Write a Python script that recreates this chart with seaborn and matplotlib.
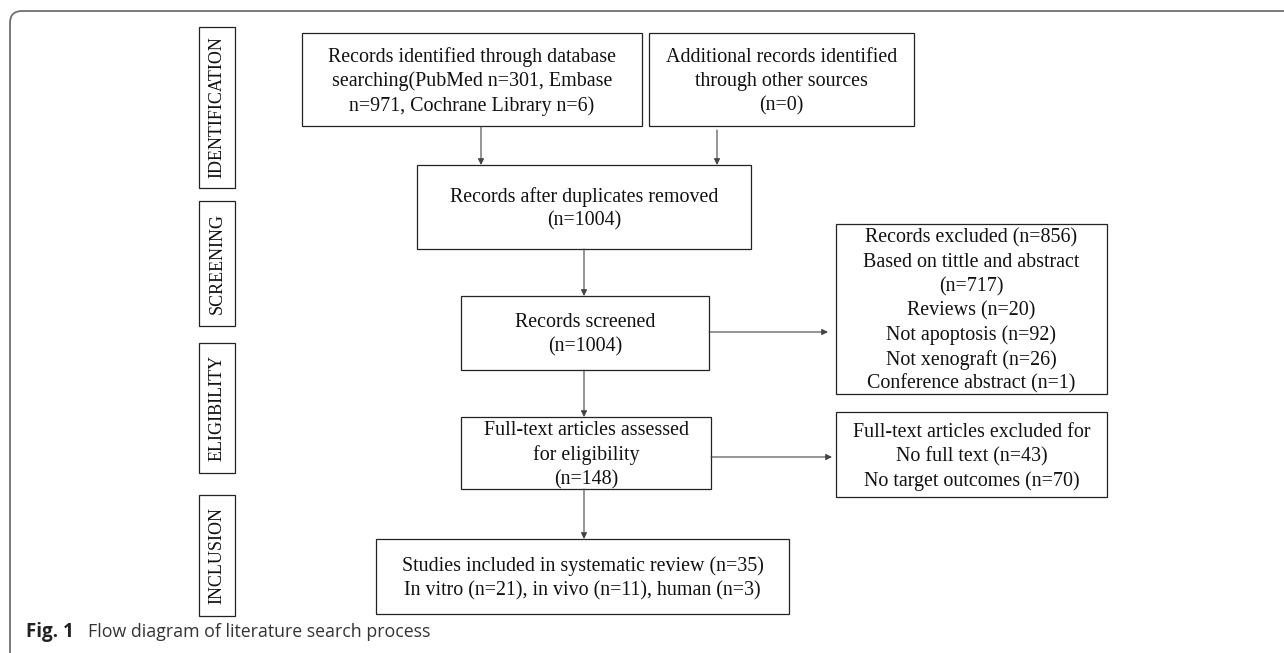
import matplotlib
matplotlib.use("Agg")
import matplotlib.pyplot as plt
from matplotlib.patches import Rectangle, FancyBboxPatch
import seaborn as sns

# stage labels down the left side
stages = ["IDENTIFICATION", "SCREENING", "ELIGIBILITY", "INCLUSION"]

# box texts, one list of lines per box
box_db = ["Records identified through database",
          "searching(PubMed n=301, Embase",
          "n=971, Cochrane Library n=6)"]
box_other = ["Additional records identified",
             "through other sources",
             "(n=0)"]
box_dedup = ["Records after duplicates removed", "(n=1004)"]
box_screened = ["Records screened", "(n=1004)"]
box_excluded = ["Records excluded (n=856)",
                "Based on tittle and abstract",
                "(n=717)",
                "Reviews (n=20)",
                "Not apoptosis (n=92)",
                "Not xenograft (n=26)",
                "Conference abstract (n=1)"]
box_fulltext = ["Full-text articles assessed", "for eligibility", "(n=148)"]
box_ft_excluded = ["Full-text articles excluded for",
                   "No full text (n=43)",
                   "No target outcomes (n=70)"]
box_included = ["Studies included in systematic review (n=35)",
                "In vitro (n=21), in vivo (n=11), human (n=3)"]

caption_bold = "Fig. 1"
caption_text = "Flow diagram of literature search process"

# layout in pixel space (x0, y0, x1, y1)
stage_boxes = [(199, 27, 235, 188), (199, 201, 235, 326),
               (199, 343, 235, 473), (199, 495, 235, 616)]
layout = {
    "db": (302, 33, 642, 126),
    "other": (649, 33, 914, 126),
    "dedup": (417, 165, 751, 249),
    "screened": (461, 296, 709, 370),
    "excluded": (836, 224, 1107, 394),
    "fulltext": (461, 417, 711, 489),
    "ft_excluded": (836, 412, 1107, 497),
    "included": (376, 539, 789, 614),
}
texts = {
    "db": box_db, "other": box_other, "dedup": box_dedup,
    "screened": box_screened, "excluded": box_excluded,
    "fulltext": box_fulltext, "ft_excluded": box_ft_excluded,
    "included": box_included,
}
arrows = [((481, 127), (481, 165)), ((717, 130), (717, 165)),
          ((584, 249), (584, 296)), ((709, 332), (828, 332)),
          ((584, 370), (584, 417)), ((711, 457), (832, 457)),
          ((584, 489), (584, 539))]

sns.set_theme(style="white")
serif = ["Liberation Serif", "DejaVu Serif"]
sans = ["Open Sans", "DejaVu Sans"]
line_h = 24.4

fig = plt.figure(figsize=(12.84, 6.53), dpi=100)
ax = fig.add_axes([0, 0, 1, 1])
ax.set_xlim(0, 1284)
ax.set_ylim(653, 0)
ax.axis("off")

# outer frame with rounded top-left corner
ax.add_patch(FancyBboxPatch((10, 11), 1320, 700,
                            boxstyle="round,pad=0,rounding_size=12",
                            fill=False, ec="#6f6f6f", lw=1.3))

for label, (x0, y0, x1, y1) in zip(stages, stage_boxes):
    ax.add_patch(Rectangle((x0, y0), x1 - x0, y1 - y0, fill=False,
                           ec="#222222", lw=0.9))
    ax.text((x0 + x1) / 2, (y0 + y1) / 2, label, rotation=90,
            ha="center", va="center", fontsize=13, family=serif,
            color="#111111")

for key, (x0, y0, x1, y1) in layout.items():
    ax.add_patch(Rectangle((x0, y0), x1 - x0, y1 - y0, fill=False,
                           ec="#222222", lw=0.9))
    lines = texts[key]
    cy = (y0 + y1) / 2 + 2
    cx = (x0 + x1) / 2
    n = len(lines)
    for i, line in enumerate(lines):
        ax.text(cx, cy + (i - (n - 1) / 2) * line_h, line,
                ha="center", va="center", fontsize=14.4, family=serif,
                color="#111111")

for start, end in arrows:
    ax.annotate("", xy=end, xytext=start,
                arrowprops=dict(arrowstyle="-|>", lw=0.8, color="#444444",
                                mutation_scale=9, shrinkA=0, shrinkB=0))

ax.text(26, 632, caption_bold, ha="left", va="center", fontsize=13.5,
        fontweight="bold", family=sans, color="#222222")
ax.text(88, 632, caption_text, ha="left", va="center", fontsize=12.8,
        family=sans, color="#333333")

fig.savefig("out.png", dpi=100, facecolor="white")
